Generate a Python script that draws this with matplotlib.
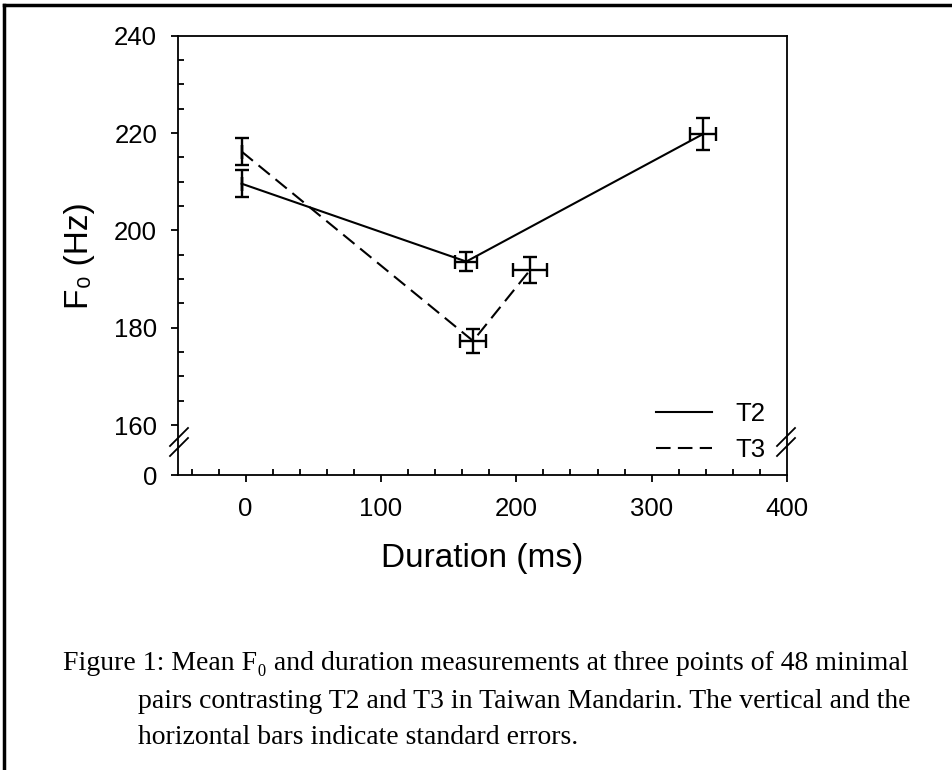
import numpy as np
import matplotlib
matplotlib.use('Agg')
import matplotlib.pyplot as plt
from matplotlib.lines import Line2D
from matplotlib.ticker import FixedLocator, MultipleLocator

# ── data ──────────────────────────────────────────────────────────────────────
T2_DUR    = [-3, 163, 338]
T2_F0     = [209.6, 193.6, 219.8]
T2_DUR_SE = [0, 8.2, 9.9]
T2_F0_SE  = [2.8, 2.0, 3.2]

T3_DUR    = [-3, 168, 210]
T3_F0     = [216.2, 177.3, 191.8]
T3_DUR_SE = [0, 9.9, 12.7]
T3_F0_SE  = [2.7, 2.4, 2.7]

Y_BREAK0 = 149.75          # where the "0" of the broken axis sits
Y_TICKS  = [Y_BREAK0, 160, 180, 200, 220, 240]
Y_LABELS = ['0', '160', '180', '200', '220', '240']
X_TICKS  = [0, 100, 200, 300, 400]

CAPTION = [
    "Figure 1: Mean F\u2080 and duration measurements at three points of 48 minimal",
    "pairs contrasting T2 and T3 in Taiwan Mandarin. The vertical and the",
    "horizontal bars indicate standard errors.",
]

SANS  = ['Liberation Sans', 'DejaVu Sans']
SERIF = ['Liberation Serif', 'DejaVu Serif']
DASH  = (0, (7, 3.5))

# ── canvas ────────────────────────────────────────────────────────────────────
fig = plt.figure(figsize=(9.53, 7.70), dpi=100, facecolor='white')
ax = fig.add_axes([178/953, 1-475/770, (787-178)/953, (475-35.7)/770])

ekw = dict(color='black', ecolor='black', lw=1.5, elinewidth=1.7,
           capsize=5, capthick=1.7)
ax.errorbar(T2_DUR, T2_F0, yerr=T2_F0_SE, xerr=T2_DUR_SE, ls='-', **ekw)
ax.errorbar(T3_DUR, T3_F0, yerr=T3_F0_SE, xerr=T3_DUR_SE, ls=DASH, **ekw)

ax.set_xlim(-50, 400)
ax.set_ylim(Y_BREAK0, 240)

ax.set_xticks(X_TICKS)
ax.set_xticklabels([str(t) for t in X_TICKS])
ax.xaxis.set_minor_locator(MultipleLocator(20))
ax.set_yticks(Y_TICKS)
ax.set_yticklabels(Y_LABELS)
ax.yaxis.set_minor_locator(FixedLocator([v for v in np.arange(165, 240, 5) if v % 20]))

ax.tick_params(which='major', direction='out', length=5, width=1.3,
               labelsize=18.5)
ax.tick_params(axis='y', which='major', pad=10)
ax.tick_params(axis='x', which='major', pad=11)
ax.tick_params(which='minor', direction='in', length=4, width=1.3)
ax.tick_params(top=False, right=False, which='both')
for lab in ax.get_xticklabels() + ax.get_yticklabels():
    lab.set_family(SANS)
for sp in ax.spines.values():
    sp.set_linewidth(1.3)

ax.set_xlabel('Duration (ms)', fontsize=24, family=SANS, labelpad=16)
ax.set_ylabel('F\u2080 (Hz)', fontsize=24, family=SANS, labelpad=14)

# ── axis break marks ─────────────────────────────────────────────────────────
def brk(x_px):
    for yc in (437, 447):
        fig.add_artist(Line2D([(x_px-9)/953, (x_px+9)/953],
                              [1-(yc+9)/770, 1-(yc-9)/770],
                              color='black', lw=1.3))
brk(179)
brk(786)

# ── legend ───────────────────────────────────────────────────────────────────
handles = [Line2D([0], [0], color='black', lw=1.5, ls='-', label='T2'),
           Line2D([0], [0], color='black', lw=1.5, ls=DASH, label='T3')]
leg = ax.legend(handles=handles, loc='lower right', frameon=False,
                prop={'family': SANS, 'size': 18.5}, handlelength=2.2,
                handletextpad=0.9, labelspacing=0.45, borderaxespad=0.2,
                bbox_to_anchor=(0.99, -0.005))

# ── figure frame (top and left only) ─────────────────────────────────────────
fig.add_artist(Line2D([4/953, 1], [1-5/770, 1-5/770], color='black', lw=2.5))
fig.add_artist(Line2D([4/953, 4/953], [0, 1-5/770], color='black', lw=2.5))

# ── caption ──────────────────────────────────────────────────────────────────
fig.text(63/953, 1-664/770, CAPTION[0], family=SERIF, fontsize=20, va='center')
fig.text(138/953, 1-702/770, CAPTION[1], family=SERIF, fontsize=20, va='center')
fig.text(138/953, 1-738/770, CAPTION[2], family=SERIF, fontsize=20, va='center')

fig.savefig('out.png', dpi=100, facecolor='white')
